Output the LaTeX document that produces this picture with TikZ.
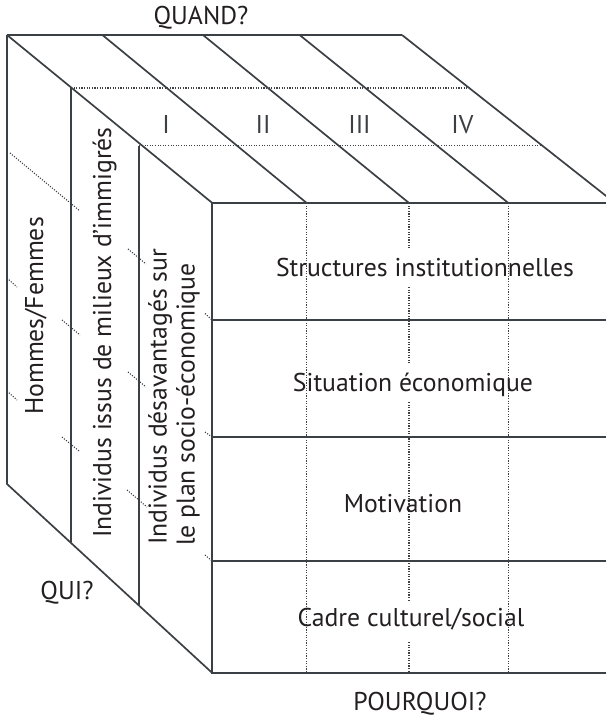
\documentclass[tikz,border=0pt]{standalone}
\usepackage{fontspec}
\setmainfont{PT Sans}
\definecolor{ln}{HTML}{3B4044}
\definecolor{tx}{HTML}{231F20}
\begin{document}
\begin{tikzpicture}[x=1bp,y=-1bp,
  edgeline/.style={draw=ln,line width=1.7bp},
  dotline/.style={draw=ln,line width=1.1bp,dash pattern=on 1.1bp off 1.5bp},
  lbl/.style={font=\fontsize{25.8}{29}\selectfont,text=tx,inner sep=0pt,anchor=base},
  numlbl/.style={font=\fontsize{25.8}{29}\selectfont,text=ln,inner sep=0pt,anchor=base},
]
\useasboundingbox (0,0) rectangle (606,721);
\begin{scope}
\clip (0,0) rectangle (606,721);
% back top corners
\coordinate (b0) at (7,35);
\coordinate (b1) at (102.4,35);
\coordinate (b2) at (203,35);
\coordinate (b3) at (299.6,35);
\coordinate (b4) at (402,35);
% front top corners
\coordinate (f0) at (212.3,203);
\coordinate (f1) at (306.7,203);
\coordinate (f2) at (409,203);
\coordinate (f3) at (508.3,203);
\coordinate (f4) at (615,203);
% front rows
\coordinate (r1) at (212.3,320);
\coordinate (r2) at (212.3,437);
\coordinate (r3) at (212.3,561);
\coordinate (fb) at (212.3,673);
\coordinate (r1e) at (620,320);
\coordinate (r2e) at (620,437);
\coordinate (r3e) at (620,561);
\coordinate (fbe) at (620,673);
% left face
\coordinate (ob) at (7,484);
\coordinate (m1t) at (71,88);
\coordinate (m1b) at (71,542);
\coordinate (m2t) at (139.3,145.5);
\coordinate (m2b) at (139.3,605);
\coordinate (d1e) at (470,88);
\coordinate (d2e) at (542,145.5);

% top face dotted lines
\draw[dotline] (m1t) -- (d1e);
\draw[dotline] (m2t) -- (d2e);

% top face
\draw[edgeline] (b0) -- (b4);
\draw[edgeline] (b0) -- (f0);
\draw[edgeline] (b1) -- (f1);
\draw[edgeline] (b2) -- (f2);
\draw[edgeline] (b3) -- (f3);
\draw[edgeline] (b4) -- (f4);
\draw[edgeline] (f0) -- (f4);

% front face
\draw[edgeline] (f0) -- (fb) -- (fbe);
\draw[edgeline] (r1) -- (r1e);
\draw[edgeline] (r2) -- (r2e);
\draw[edgeline] (r3) -- (r3e);
\draw[dotline] (f1) -- (f1 |- fb);
\draw[dotline] (f3) -- (f3 |- fb);
\draw[dotline] (f2) -- (409,248);
\draw[dotline] (409,287) -- (409,363);
\draw[dotline] (409,402) -- (409,602);
\draw[dotline] (409,642) -- (f2 |- fb);

% left face
\draw[edgeline] (b0) -- (ob) -- (fb);
\draw[edgeline] (m1t) -- (m1b);
\draw[edgeline] (m2t) -- (m2b);
% row boundaries on the left face
\draw[dotline] (10,153) -- (80,211);
\draw[dotline] (128,249) -- (146,264);
\draw[dotline] (205,313.5) -- (212,320);
\draw[dotline] (7,278) -- (17,287);
\draw[dotline] (62,320) -- (80,335);
\draw[dotline] (128,372) -- (146,387);
\draw[dotline] (205,432) -- (212,437);
\draw[dotline] (7,391) -- (17,400);
\draw[dotline] (62,437) -- (79,451);
\draw[dotline] (127,490) -- (147,507);
\draw[dotline] (205,555) -- (212,561);
\end{scope}

% labels
\node[lbl] (quand) at (201,25) {QUAND?};
\node[lbl] (qui) at (67,599) {QUI?};
\node[lbl] (pourquoi) at (420,710) {POURQUOI?};
\node[numlbl] (n1) at (166,133.3) {I};
\node[numlbl] (n2) at (263,133.3) {II};
\node[numlbl] (n3) at (359.5,133.3) {III};
\node[numlbl] (n4) at (462.5,133.3) {IV};
\node[lbl] (s1) at (425,276.7) {Structures institutionnelles};
\node[lbl] (s2) at (413,391.7) {Situation économique};
\node[lbl] (s3) at (403,512.7) {Motivation};
\node[lbl] (s4) at (411,626.7) {Cadre culturel/social};
\node[lbl,rotate=90] (g1) at (43,316) {Hommes/Femmes};
\node[lbl,rotate=90] (g2) at (111,332.5) {Individus issus de milieux d’immigrés};
\node[lbl,rotate=90,anchor=base west] (g3a) at (166.7,545) {Individus désavantagés sur};
\node[lbl,rotate=90,anchor=base west] (g3b) at (194.5,546) {le plan socio-économique};
\end{tikzpicture}
\end{document}
